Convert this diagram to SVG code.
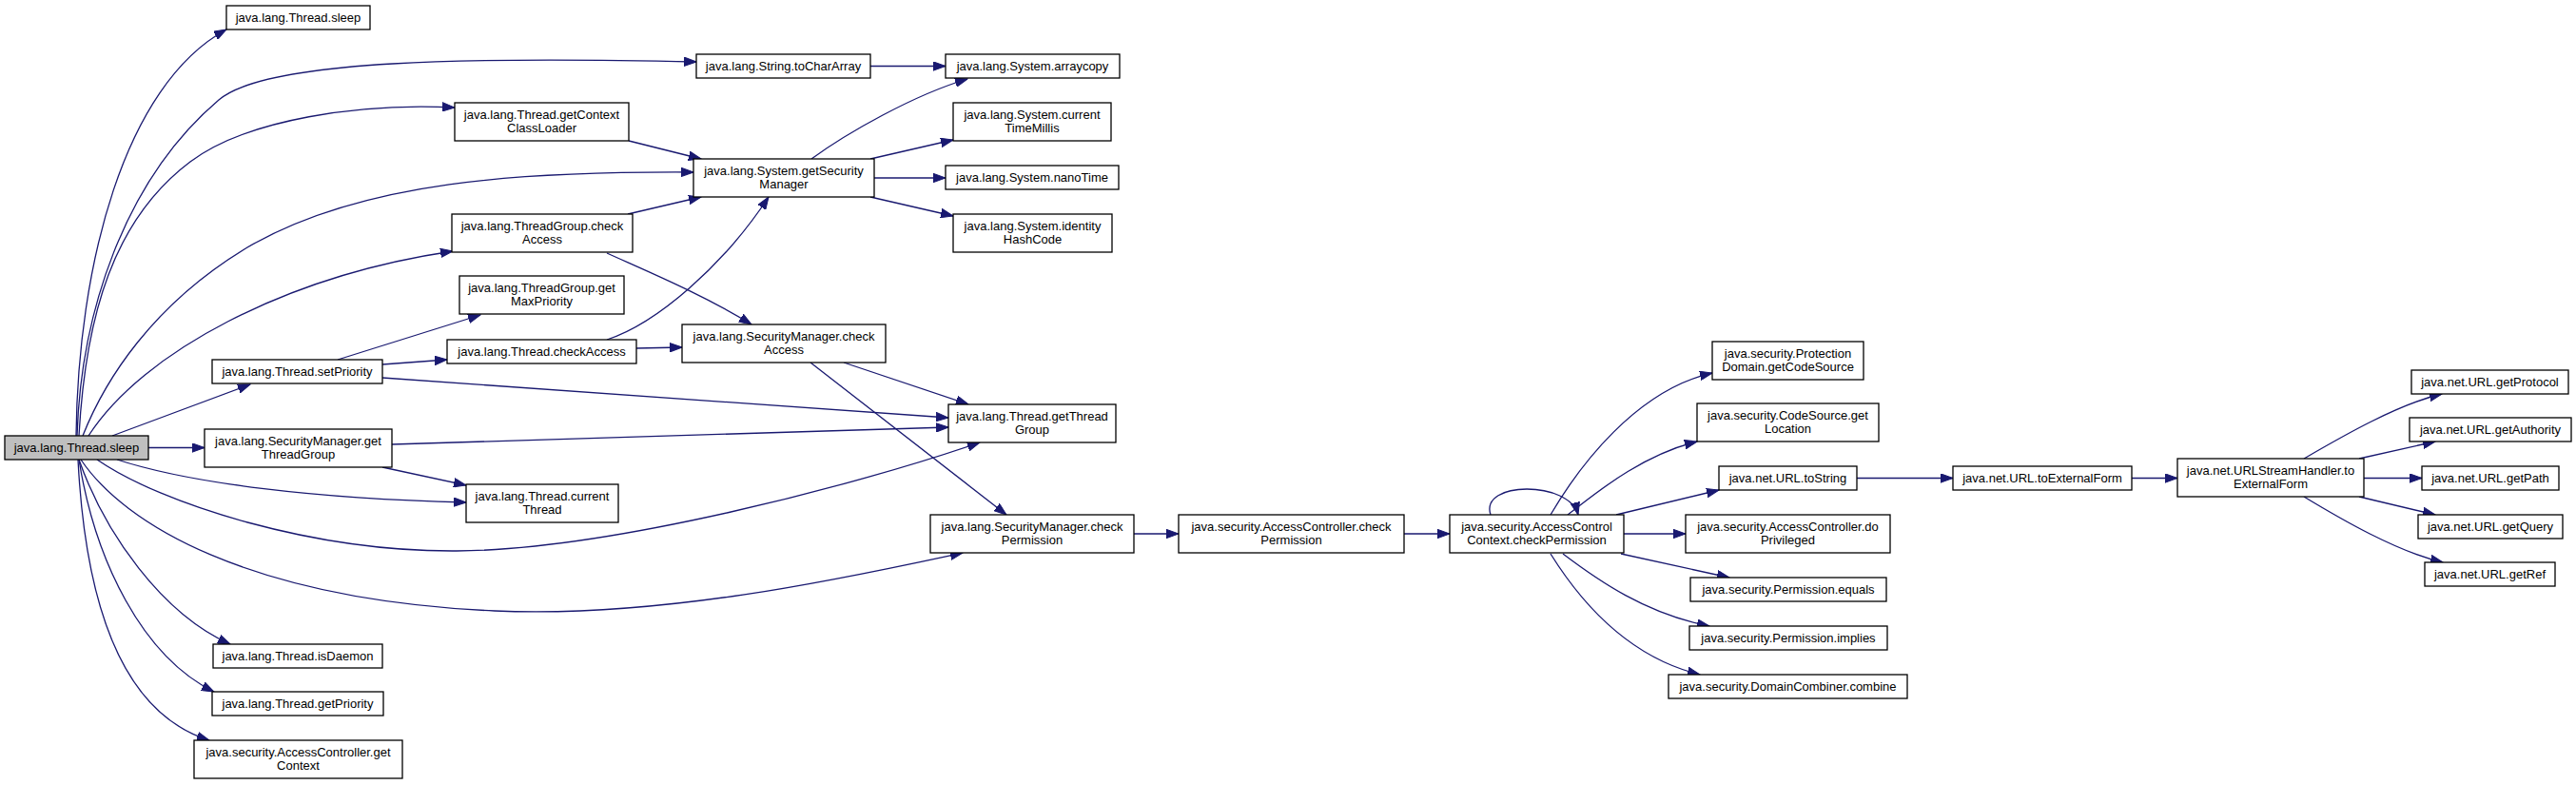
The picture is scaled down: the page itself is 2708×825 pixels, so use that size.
<svg xmlns="http://www.w3.org/2000/svg" width="2708" height="825" viewBox="0 0 2708 825">
<defs>
<style>
.n rect{fill:#fff;stroke:#000;stroke-width:1.3}
.n.root rect{fill:#bfbfbf}
.n text{font-family:"Liberation Sans",Arial,sans-serif;font-size:13px;fill:#000;text-anchor:middle}
.e path{fill:none;stroke:#191970;stroke-width:1.3;marker-end:url(#ah)}
</style>
<marker id="ah" markerUnits="userSpaceOnUse" markerWidth="14" markerHeight="10" refX="13" refY="5" orient="auto" viewBox="0 0 14 10">
<path d="M0,0.3 L13,5 L0,9.7 z" fill="#191970" stroke="#191970" stroke-width="1"/>
</marker>
</defs>
<rect width="2708" height="825" fill="#fff"/>
<g id="edges" class="e">
<path d="M80,458 C82,280 130,90 238,31"/>
<path d="M81,458 C85,330 130,190 230,105 C280,62 500,60 732,65"/>
<path d="M83,458 C90,330 120,230 200,170 C260,125 380,108 478,113"/>
<path d="M87,458 C110,400 160,320 260,260 C380,190 550,180 729,181"/>
<path d="M93,458 C150,370 300,290 476,264"/>
<path d="M118,458 L263,404"/>
<path d="M156,470.5 L215,470.5"/>
<path d="M123,483 C200,508 330,524 490,528"/>
<path d="M102,483 C170,530 330,580 480,579 C640,578 900,510 1030,465"/>
<path d="M85,483 C130,550 260,630 520,642 C700,650 900,605 1012,581"/>
<path d="M83,483 C110,560 170,645 242,677"/>
<path d="M83,483 C100,590 150,690 225,727"/>
<path d="M82,483 C90,640 130,750 220,778"/>
<path d="M355,378 L505,331"/>
<path d="M402,383 L470,378"/>
<path d="M402,397 L997,439"/>
<path d="M412,467 L997,449"/>
<path d="M402,491 L490,510"/>
<path d="M661,148 L737,167"/>
<path d="M660,225 L737,207"/>
<path d="M638,266 C680,285 740,310 790,341"/>
<path d="M638,357 C690,340 760,280 808,207"/>
<path d="M669,366 L717,365"/>
<path d="M853,167 C890,140 960,100 1017,83"/>
<path d="M915,167 L1002,147"/>
<path d="M919,187 L994,187"/>
<path d="M915,207 L1002,227"/>
<path d="M915,69.5 L994,69.5"/>
<path d="M887,381 L1018,425"/>
<path d="M852,381 L1058,541"/>
<path d="M1192,561 L1239,561"/>
<path d="M1476,561 L1524,561"/>
<path d="M1567,541 C1555,505 1650,505 1659,541"/>
<path d="M1630,541 C1660,490 1720,410 1800,392"/>
<path d="M1648,541 C1670,525 1720,480 1784,464"/>
<path d="M1699,541 L1807,515"/>
<path d="M1707,561 L1772,561"/>
<path d="M1704,582 L1818,607"/>
<path d="M1643,582 C1680,610 1730,645 1797,658"/>
<path d="M1630,582 C1660,630 1710,690 1787,709"/>
<path d="M1952,502.5 L2053,502.5"/>
<path d="M2241,502.5 L2289,502.5"/>
<path d="M2422,482 C2460,460 2520,425 2567,414"/>
<path d="M2480,482 L2560,464"/>
<path d="M2485,502.5 L2546,502.5"/>
<path d="M2480,522 L2560,541"/>
<path d="M2422,522 C2460,545 2520,580 2568,591"/>
</g>
<g id="n_root" class="n root"><rect x="5" y="458" width="151" height="25"/><text x="80.5" y="475">java.lang.Thread.sleep</text></g>
<g id="n_sleep" class="n"><rect x="238" y="6" width="151" height="25"/><text x="313.5" y="23">java.lang.Thread.sleep</text></g>
<g id="n_tochar" class="n"><rect x="732" y="57" width="183" height="25"/><text x="823.5" y="74">java.lang.String.toCharArray</text></g>
<g id="n_arraycopy" class="n"><rect x="994" y="57" width="183" height="25"/><text x="1085.5" y="74">java.lang.System.arraycopy</text></g>
<g id="n_getccl" class="n"><rect x="478" y="108" width="183" height="40"/><text x="569.5" y="125">java.lang.Thread.getContext</text><text x="569.5" y="139">ClassLoader</text></g>
<g id="n_getsm" class="n"><rect x="729" y="167" width="190" height="40"/><text x="824" y="184">java.lang.System.getSecurity</text><text x="824" y="198">Manager</text></g>
<g id="n_ctm" class="n"><rect x="1002" y="108" width="166" height="40"/><text x="1085" y="125">java.lang.System.current</text><text x="1085" y="139">TimeMillis</text></g>
<g id="n_nano" class="n"><rect x="994" y="174" width="182" height="25"/><text x="1085" y="191">java.lang.System.nanoTime</text></g>
<g id="n_ihc" class="n"><rect x="1002" y="225" width="167" height="40"/><text x="1085.5" y="242">java.lang.System.identity</text><text x="1085.5" y="256">HashCode</text></g>
<g id="n_tgca" class="n"><rect x="475" y="225" width="190" height="40"/><text x="570" y="242">java.lang.ThreadGroup.check</text><text x="570" y="256">Access</text></g>
<g id="n_tgmp" class="n"><rect x="483" y="290" width="173" height="40"/><text x="569.5" y="307">java.lang.ThreadGroup.get</text><text x="569.5" y="321">MaxPriority</text></g>
<g id="n_tca" class="n"><rect x="470" y="357" width="199" height="25"/><text x="569.5" y="374">java.lang.Thread.checkAccess</text></g>
<g id="n_smca" class="n"><rect x="717" y="341" width="214" height="40"/><text x="824" y="358">java.lang.SecurityManager.check</text><text x="824" y="372">Access</text></g>
<g id="n_setp" class="n"><rect x="223" y="378" width="179" height="25"/><text x="312.5" y="395">java.lang.Thread.setPriority</text></g>
<g id="n_smgtg" class="n"><rect x="215" y="451" width="197" height="40"/><text x="313.5" y="468">java.lang.SecurityManager.get</text><text x="313.5" y="482">ThreadGroup</text></g>
<g id="n_gtg" class="n"><rect x="997" y="425" width="176" height="40"/><text x="1085" y="442">java.lang.Thread.getThread</text><text x="1085" y="456">Group</text></g>
<g id="n_ct" class="n"><rect x="490" y="509" width="160" height="40"/><text x="570" y="526">java.lang.Thread.current</text><text x="570" y="540">Thread</text></g>
<g id="n_smcp" class="n"><rect x="978" y="541" width="214" height="40"/><text x="1085" y="558">java.lang.SecurityManager.check</text><text x="1085" y="572">Permission</text></g>
<g id="n_accp" class="n"><rect x="1239" y="541" width="237" height="40"/><text x="1357.5" y="558">java.security.AccessController.check</text><text x="1357.5" y="572">Permission</text></g>
<g id="n_acccp" class="n"><rect x="1524" y="541" width="183" height="40"/><text x="1615.5" y="558">java.security.AccessControl</text><text x="1615.5" y="572">Context.checkPermission</text></g>
<g id="n_isd" class="n"><rect x="224" y="677" width="178" height="25"/><text x="313" y="694">java.lang.Thread.isDaemon</text></g>
<g id="n_getp" class="n"><rect x="223" y="727" width="180" height="25"/><text x="313" y="744">java.lang.Thread.getPriority</text></g>
<g id="n_acgc" class="n"><rect x="204" y="778" width="219" height="40"/><text x="313.5" y="795">java.security.AccessController.get</text><text x="313.5" y="809">Context</text></g>
<g id="n_pdgcs" class="n"><rect x="1800" y="359" width="159" height="40"/><text x="1879.5" y="376">java.security.Protection</text><text x="1879.5" y="390">Domain.getCodeSource</text></g>
<g id="n_csgl" class="n"><rect x="1784" y="424" width="191" height="40"/><text x="1879.5" y="441">java.security.CodeSource.get</text><text x="1879.5" y="455">Location</text></g>
<g id="n_urlts" class="n"><rect x="1807" y="490" width="145" height="25"/><text x="1879.5" y="507">java.net.URL.toString</text></g>
<g id="n_acdp" class="n"><rect x="1772" y="541" width="215" height="40"/><text x="1879.5" y="558">java.security.AccessController.do</text><text x="1879.5" y="572">Privileged</text></g>
<g id="n_peq" class="n"><rect x="1777" y="607" width="206" height="25"/><text x="1880" y="624">java.security.Permission.equals</text></g>
<g id="n_pimp" class="n"><rect x="1776" y="658" width="208" height="25"/><text x="1880" y="675">java.security.Permission.implies</text></g>
<g id="n_dcc" class="n"><rect x="1754" y="709" width="251" height="25"/><text x="1879.5" y="726">java.security.DomainCombiner.combine</text></g>
<g id="n_urltef" class="n"><rect x="2053" y="490" width="188" height="25"/><text x="2147" y="507">java.net.URL.toExternalForm</text></g>
<g id="n_ushtef" class="n"><rect x="2289" y="482" width="196" height="40"/><text x="2387" y="499">java.net.URLStreamHandler.to</text><text x="2387" y="513">ExternalForm</text></g>
<g id="n_gprot" class="n"><rect x="2535" y="389" width="165" height="25"/><text x="2617.5" y="406">java.net.URL.getProtocol</text></g>
<g id="n_gauth" class="n"><rect x="2533" y="439" width="170" height="25"/><text x="2618" y="456">java.net.URL.getAuthority</text></g>
<g id="n_gpath" class="n"><rect x="2546" y="490" width="144" height="25"/><text x="2618" y="507">java.net.URL.getPath</text></g>
<g id="n_gquery" class="n"><rect x="2542" y="541" width="152" height="25"/><text x="2618" y="558">java.net.URL.getQuery</text></g>
<g id="n_gref" class="n"><rect x="2549" y="591" width="137" height="25"/><text x="2617.5" y="608">java.net.URL.getRef</text></g>
</svg>
